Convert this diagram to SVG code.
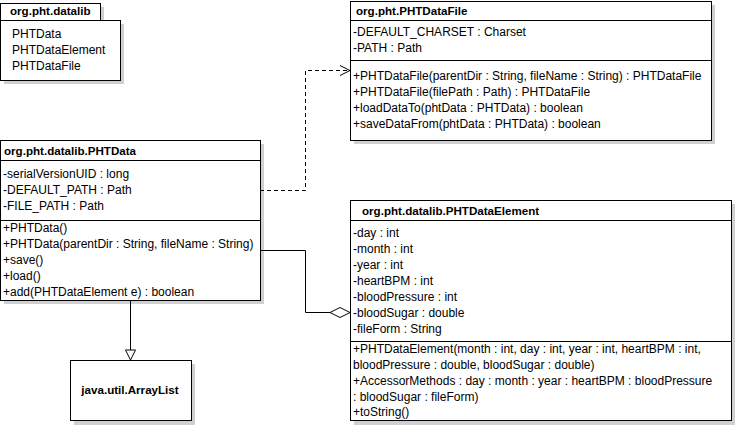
<svg xmlns="http://www.w3.org/2000/svg" width="735" height="425" viewBox="0 0 735 425">
<style>
.box{fill:#fff;stroke:#000;stroke-width:1}
.sh{fill:#d0d0d0}
.t{font-family:"Liberation Sans",Arial,sans-serif;font-size:12px;fill:#000}
.b{font-weight:bold;font-size:11.6px}
.ln{stroke:#000;stroke-width:1;fill:none}
</style>
<rect width="735" height="425" fill="#fff"/>
<g id="pkg">
<rect class="sh" x="4" y="24" width="120" height="60"/>
<rect class="sh" x="4" y="7" width="100" height="17"/>
<rect class="box" x="0.5" y="3.5" width="100" height="17"/>
<rect class="box" x="0.5" y="20.5" width="120" height="60"/>
<text class="t b" x="10" y="15">org.pht.datalib</text>
<text class="t" x="12" y="38">PHTData</text>
<text class="t" x="12" y="54">PHTDataElement</text>
<text class="t" x="12" y="70">PHTDataFile</text>
</g>
<g id="PHTDataFile">
<rect class="sh" x="354" y="5" width="361" height="139"/>
<rect class="box" x="350.5" y="1.5" width="361" height="139"/>
<line class="ln" x1="350" y1="20.5" x2="711" y2="20.5"/>
<line class="ln" x1="350" y1="60.5" x2="711" y2="60.5"/>
<text class="t b" x="356" y="15">org.pht.PHTDataFile</text>
<text class="t" x="353" y="36">-DEFAULT_CHARSET : Charset</text>
<text class="t" x="353" y="52">-PATH : Path</text>
<text class="t" x="353" y="80">+PHTDataFile(parentDir : String, fileName : String) : PHTDataFile</text>
<text class="t" x="353" y="96">+PHTDataFile(filePath : Path) : PHTDataFile</text>
<text class="t" x="353" y="112">+loadDataTo(phtData : PHTData) : boolean</text>
<text class="t" x="353" y="128">+saveDataFrom(phtData : PHTData) : boolean</text>
</g>
<g id="PHTData">
<rect class="sh" x="4" y="144" width="260" height="160"/>
<rect class="box" x="0.5" y="140.5" width="260" height="160"/>
<line class="ln" x1="0" y1="160.5" x2="260" y2="160.5"/>
<line class="ln" x1="0" y1="220.5" x2="260" y2="220.5"/>
<text class="t b" x="4" y="155">org.pht.datalib.PHTData</text>
<text class="t" x="3" y="178">-serialVersionUID : long</text>
<text class="t" x="3" y="194">-DEFAULT_PATH : Path</text>
<text class="t" x="3" y="210">-FILE_PATH : Path</text>
<text class="t" x="3" y="232">+PHTData()</text>
<text class="t" x="3" y="248">+PHTData(parentDir : String, fileName : String)</text>
<text class="t" x="3" y="264">+save()</text>
<text class="t" x="3" y="280">+load()</text>
<text class="t" x="3" y="296">+add(PHTDataElement e) : boolean</text>
</g>
<g id="PHTDataElement">
<rect class="sh" x="354" y="204" width="381" height="221"/>
<rect class="box" x="350.5" y="200.5" width="381" height="220"/>
<line class="ln" x1="350" y1="220.5" x2="731" y2="220.5"/>
<line class="ln" x1="350" y1="341.5" x2="731" y2="341.5"/>
<text class="t b" x="362" y="215">org.pht.datalib.PHTDataElement</text>
<text class="t" x="353" y="237">-day : int</text>
<text class="t" x="353" y="253">-month : int</text>
<text class="t" x="353" y="269">-year : int</text>
<text class="t" x="353" y="285">-heartBPM : int</text>
<text class="t" x="353" y="301">-bloodPressure : int</text>
<text class="t" x="353" y="317">-bloodSugar : double</text>
<text class="t" x="353" y="333">-fileForm : String</text>
<text class="t" x="353" y="353">+PHTDataElement(month : int, day : int, year : int, heartBPM : int,</text>
<text class="t" x="353" y="369">bloodPressure : double, bloodSugar : double)</text>
<text class="t" x="353" y="385">+AccessorMethods : day : month : year : heartBPM : bloodPressure</text>
<text class="t" x="353" y="401">: bloodSugar : fileForm)</text>
<text class="t" x="353" y="416">+toString()</text>
</g>
<g id="ArrayList">
<rect class="sh" x="74" y="364" width="121" height="61"/>
<rect class="box" x="70.5" y="360.5" width="121" height="60"/>
<text class="t b" x="130" y="394" text-anchor="middle">java.util.ArrayList</text>
</g>
<g id="connectors">
<polyline class="ln" points="260,190.5 305.5,190.5 305.5,70.5 350,70.5" stroke-dasharray="4,3"/>
<polyline class="ln" points="340,65.5 350,70.5 340,75.5"/>
<polyline class="ln" points="260,250.5 305.5,250.5 305.5,312.5 330,312.5"/>
<polygon class="ln" points="330,312.5 340,307.5 350,312.5 340,317.5" fill="#fff"/>
<line class="ln" x1="130.5" y1="300" x2="130.5" y2="350"/>
<polygon class="ln" points="125.5,350 135.5,350 130.5,360" fill="#fff"/>
</g>
</svg>
